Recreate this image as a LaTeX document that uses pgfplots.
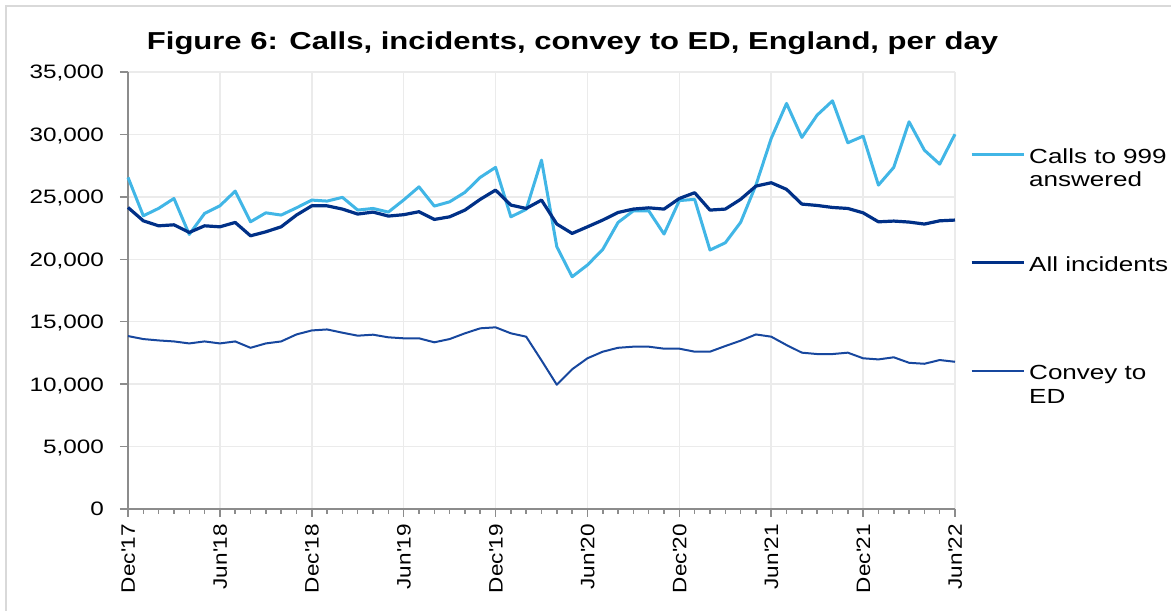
\documentclass[border=0pt]{standalone}
\usepackage{fontspec}
\setmainfont{Liberation Sans}
\newfontfamily\tickfont[FakeStretch=1.25]{Liberation Sans}
\newfontfamily\xtickfont[FakeStretch=1.16]{Liberation Sans}
\newfontfamily\titlefont[FakeStretch=1.266]{Liberation Sans}
\newfontfamily\legfont[FakeStretch=1.275]{Liberation Sans}
\usepackage{pgfplots}
\pgfplotsset{compat=1.18}
\usepackage{pgfplotstable}
\definecolor{callsc}{HTML}{41B6E6}
\definecolor{incc}{HTML}{003087}
\definecolor{convc}{HTML}{17479E}
\definecolor{gridc}{HTML}{EBEBEB}
\definecolor{axisc}{HTML}{8C8C8C}
\definecolor{framec}{HTML}{D9D9D9}

\pgfplotstableread{
m calls inc conv
0 26560 24150 13850
1 23480 23080 13610
2 24075 22680 13500
3 24870 22760 13420
4 21990 22150 13260
5 23670 22680 13420
6 24280 22600 13260
7 25460 22950 13420
8 23000 21880 12910
9 23720 22200 13260
10 23540 22600 13420
11 24120 23540 13980
12 24740 24280 14300
13 24660 24280 14380
14 24960 24020 14120
15 23940 23620 13880
16 24070 23780 13960
17 23780 23460 13750
18 24750 23570 13670
19 25800 23810 13670
20 24260 23190 13350
21 24600 23400 13610
22 25360 23940 14070
23 26560 24800 14470
24 27360 25540 14550
25 23400 24340 14070
26 24000 24070 13800
27 27940 24740 11900
28 21000 22820 9950
29 18600 22070 11190
30 19540 22600 12070
31 20790 23140 12600
32 22950 23750 12910
33 23880 24020 13000
34 23880 24120 13000
35 22020 24020 12840
36 24700 24870 12840
37 24800 25330 12600
38 20740 23940 12600
39 21320 24020 13050
40 22950 24800 13480
41 25940 25860 13980
42 29680 26130 13800
43 32480 25600 13130
44 29760 24420 12520
45 31550 24310 12410
46 32690 24150 12410
47 29330 24070 12520
48 29860 23720 12070
49 25940 23000 11980
50 27360 23060 12150
51 31010 22980 11710
52 28740 22820 11630
53 27620 23080 11930
54 30020 23140 11790
}\datatable

\begin{document}
\begin{tikzpicture}[x=1bp,y=1bp]
\useasboundingbox (0,0) rectangle (1171,611);
\draw[framec, line width=2bp] (6,0) -- (6,605) -- (1171,605);
\node[font=\titlefont\fontsize{24.6}{29}\selectfont\bfseries, anchor=base, inner sep=0pt] at (572.5,561.7) {Figure 6: Calls, incidents, convey to ED, England, per day};
\begin{axis}[
  at={(128bp,102bp)}, anchor=south west,
  scale only axis, width=827bp, height=437bp,
  xmin=0, xmax=54, ymin=0, ymax=35000,
  axis x line*=bottom, axis y line*=left,
  axis line style={axisc, line width=1.8bp, -},
  tick align=outside,
  major tick length=8bp, minor tick length=5bp,
  every tick/.style={axisc, line width=1.5bp},
  xtick={0,6,...,54},
  xticklabels={Dec{\textquotesingle}17, Jun{\textquotesingle}18, Dec{\textquotesingle}18, Jun{\textquotesingle}19, Dec{\textquotesingle}19, Jun{\textquotesingle}20, Dec{\textquotesingle}20, Jun{\textquotesingle}21, Dec{\textquotesingle}21, Jun{\textquotesingle}22},
  minor x tick num=5,
  ytick={0,5000,...,35000},
  grid=major,
  major grid style={gridc, line width=1.5bp},
  scaled y ticks=false,
  yticklabel style={font=\tickfont\fontsize{19.5}{23}\selectfont},
  xticklabel style={font=\xtickfont\fontsize{19.5}{23}\selectfont},
  /pgf/number format/assume math mode=true,
  /pgf/number format/1000 sep={,},
  yticklabel style={xshift=-16bp, anchor=east, text height=13.9bp, text depth=0pt, inner sep=0pt},
  xticklabel style={yshift=-7bp, rotate=90, anchor=east, text height=13.9bp, text depth=0pt, inner sep=0pt},
  legend style={at={(1,0.8277)}, anchor=north west, xshift=15bp, draw=none, fill=none,
    inner sep=0pt, outer sep=0pt, row sep=0pt, column sep=4bp,
    font=\legfont\fontsize{20.5}{23.4}\selectfont,
    nodes={inner sep=0pt, text height=16bp, text depth=92.3bp, anchor=base west}},
  legend cell align=left,
  legend image code/.code={\draw[#1] (0bp,9bp) -- (52bp,9bp);},
  clip=false,
]
\addplot[callsc, line width=3bp, line join=round] table[x=m, y=calls] {\datatable};
\addlegendentry{\begin{tabular}[t]{@{}l@{}}Calls to 999\\answered\end{tabular}}
\addplot[incc, line width=3.2bp, line join=round] table[x=m, y=inc] {\datatable};
\addlegendentry{All incidents}
\addplot[convc, line width=2bp, line join=round] table[x=m, y=conv] {\datatable};
\addlegendentry{\begin{tabular}[t]{@{}l@{}}Convey to\\ED\end{tabular}}
\end{axis}
\end{tikzpicture}
\end{document}
